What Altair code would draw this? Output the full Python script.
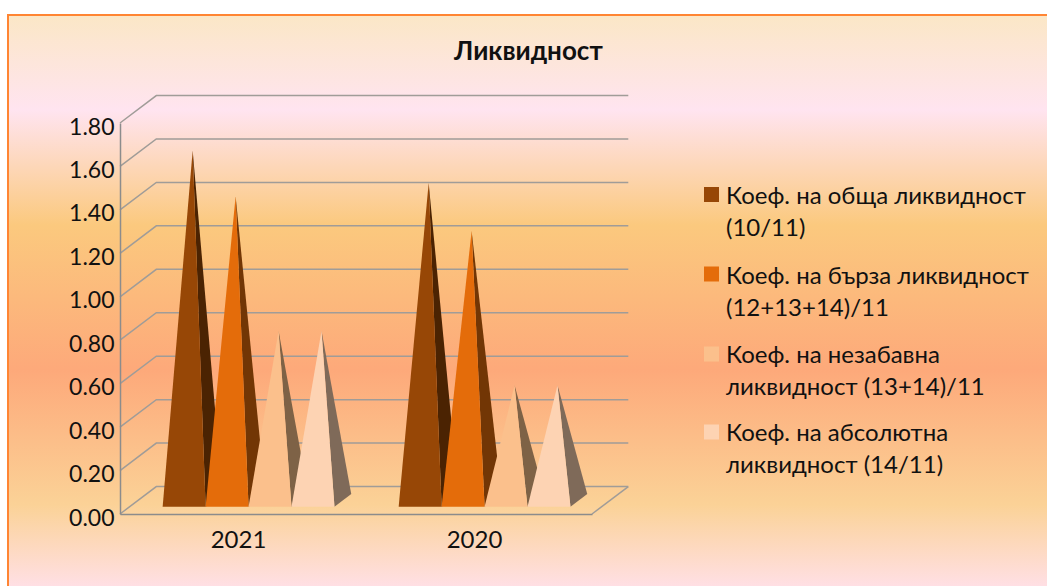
import altair as alt
import pandas as pd

# Liquidity ratios per year
years = ["2021", "2020"]
series_names = [
    "Коеф. на обща ликвидност|(10/11)",
    "Коеф. на бърза ликвидност|(12+13+14)/11",
    "Коеф. на незабавна|ликвидност (13+14)/11",
    "Коеф. на абсолютна|ликвидност (14/11)",
]
values_2021 = [1.61, 1.40, 0.78, 0.78]
values_2020 = [1.46, 1.24, 0.53, 0.53]
tick_values = [0.0, 0.2, 0.4, 0.6, 0.8, 1.0, 1.2, 1.4, 1.6, 1.8]

front_colors = ["#974706", "#E46C0A", "#FBC08C", "#FDD3B3"]
side_colors = ["#4B2302", "#723605", "#7E6246", "#7F6A59"]

FONT = "Lato"
PLOT_W, PLOT_H = 472, 391
PAD_L, PAD_T = 120, 123

# Oblique projection of the 3D box: a unit of depth shifts right and up
DEPTH_X = 36.3 / 236
DEPTH_V = 27.5 / 217.5
PYR_W = 0.182
NEAR, FAR = 0.265, 0.727


def project(x, v, depth):
    return x + depth * DEPTH_X, v + depth * DEPTH_V


faces = []
for c, vals in enumerate([values_2021, values_2020]):
    for s, v in enumerate(vals):
        left = c + 0.504 - 2 * PYR_W + s * PYR_W
        right = left + PYR_W
        blx, bly = project(left, 0, NEAR)
        brx, bry = project(right, 0, NEAR)
        ax, ay = project((left + right) / 2, v, 0.5)
        cx, cy = project(right, 0, FAR)
        fid = f"{c}-{s}"
        # Side face first so the front face of the same pyramid overlaps it
        upper_at_b = ay + (cy - ay) * (brx - ax) / (cx - ax)
        for px, py, py2 in [(ax, ay, ay), (brx, bry, upper_at_b), (cx, cy, cy)]:
            faces.append(dict(face=fid + "s", x=px, y=py, y2=py2, fill=side_colors[s]))
        for px, py in [(blx, bly), (ax, ay), (brx, bry)]:
            faces.append(dict(face=fid + "f", x=px, y=py, y2=bly, fill=front_colors[s]))
faces = pd.DataFrame(faces)

grid = []
for v in tick_values:
    for i, (x, d) in enumerate([(0, 0), (0, 1), (2, 1)]):
        px, py = project(x, v, d)
        grid.append(dict(line=f"g{v}", i=i, x=px, y=py))
for i, d in enumerate([0, 1]):
    px, py = project(2, 0, d)
    grid.append(dict(line="floor", i=i, x=px, y=py))
grid = pd.DataFrame(grid)

x_scale = alt.Scale(domain=[0, 2], nice=False, zero=False)
y_scale = alt.Scale(domain=[0, 1.8], nice=False, zero=False)

# Full-frame gradient panel with its orange border
stops = [
    (15, "#FBE7C6"), (110, "#FFE4F0"), (225, "#FBC97E"),
    (370, "#FDA97A"), (505, "#FBD297"), (590, "#FFE0E8"),
]
panel = alt.Chart(pd.DataFrame({"a": [0]})).mark_rect(
    clip=False,
    stroke="#FF8533",
    strokeWidth=2,
    color=alt.Gradient(
        gradient="linear", x1=0, y1=0, x2=0, y2=1,
        stops=[alt.GradientStop(offset=(y - 15) / 575, color=c) for y, c in stops],
    ),
).encode(
    x=alt.value(8 - PAD_L), x2=alt.value(1055 - PAD_L),
    y=alt.value(15 - PAD_T), y2=alt.value(590 - PAD_T),
)

gridlines = alt.Chart(grid).mark_line(clip=False, color="#A09C98", strokeWidth=1.5).encode(
    x=alt.X("x:Q", scale=x_scale, axis=alt.Axis(
        values=[0.5, 1.5], labelExpr=f"datum.value < 1 ? '{years[0]}' : '{years[1]}'",
        title=None, grid=False, ticks=False, domainColor="#8C8C8C", domainWidth=1.5,
        labelFont=FONT, labelFontSize=24, labelColor="#111111", labelPadding=14,
        labelFlush=False, zindex=1,
    )),
    y=alt.Y("y:Q", scale=y_scale, axis=alt.Axis(
        values=tick_values, format=".2f", title=None, grid=False, ticks=False,
        domainColor="#8C8C8C", domainWidth=1.5,
        labelFont=FONT, labelFontSize=23, labelColor="#111111", labelPadding=6,
        labelOffset=4, labelOverlap=False, zindex=1,
    )),
    detail="line:N",
    order="i:O",
)

pyramids = alt.Chart(faces).mark_area(clip=False, interpolate="linear").encode(
    x=alt.X("x:Q", scale=x_scale),
    y=alt.Y("y:Q", scale=y_scale),
    y2="y2:Q",
    fill=alt.Fill("fill:N", scale=None),
    detail="face:N",
)

# Hand-placed key: a swatch and a two-line label for each ratio
key = pd.DataFrame({
    "name": series_names,
    "fill": front_colors,
    "sx": [711.5 - PAD_L] * 4,
    "sy": [y - PAD_T for y in (194.5, 274, 354, 432)],
    "tx": [726 - PAD_L] * 4,
    "ty": [y - PAD_T for y in (204, 283.5, 363, 441)],
})
swatches = alt.Chart(key).mark_square(size=225, opacity=1, clip=False).encode(
    x=alt.X("sx:Q", scale=None), y=alt.Y("sy:Q", scale=None),
    fill=alt.Fill("fill:N", scale=None),
)
labels = alt.Chart(key).mark_text(
    align="left", baseline="alphabetic", lineBreak="|", lineHeight=32,
    font=FONT, fontSize=24, color="#111111", clip=False,
).encode(
    x=alt.X("tx:Q", scale=None), y=alt.Y("ty:Q", scale=None), text="name:N",
)

chart = alt.layer(panel, gridlines, pyramids, swatches, labels).resolve_scale(
    x="independent", y="independent"
).resolve_axis(x="shared", y="shared").properties(
    width=PLOT_W,
    height=PLOT_H,
    padding={"left": PAD_L, "top": PAD_T, "right": 1047 - PAD_L - PLOT_W, "bottom": 586 - PAD_T - PLOT_H},
    autosize=alt.AutoSizeParams(type="none"),
    background="white",
    title=alt.TitleParams(
        "Ликвидност", font=FONT, fontSize=26, fontWeight="bold", color="#111111",
        anchor="start", dx=447, offset=-51,
    ),
).configure_view(stroke=None)

chart.save("out.html", embed_options={"renderer": "svg", "actions": False})
